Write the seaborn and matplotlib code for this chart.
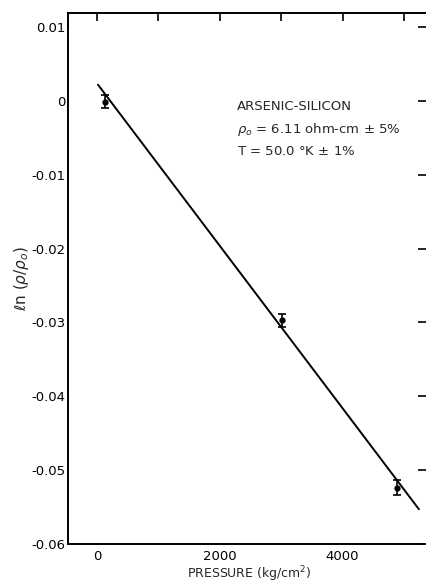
import seaborn as sns
import matplotlib.pyplot as plt

# measured points with error bars
pressure = [130, 3010, 4880]
ln_ratio = [-0.0001, -0.0297, -0.0524]
ln_err = [0.0009, 0.0009, 0.0010]

# fitted straight line (end points)
fit_pressure = [16, 5245]
fit_ln = [0.0022, -0.0553]

x_ticks = [0, 1000, 2000, 3000, 4000, 5000]
x_labels = ['0', '', '2000', '', '4000', '']
y_ticks = [0.01, 0, -0.01, -0.02, -0.03, -0.04, -0.05, -0.06]
y_labels = ['0.01', '0', '-0.01', '-0.02', '-0.03', '-0.04', '-0.05', '-0.06']

sns.set_style('white')
plt.rcParams['font.family'] = ['DejaVu Sans']

fig = plt.figure(figsize=(4.27, 5.86), dpi=100)
ax = fig.add_axes([0.159, 0.0717, 0.848, 0.906])

sns.lineplot(x=fit_pressure, y=fit_ln, ax=ax, color='black', linewidth=1.4)
ax.errorbar(pressure, ln_ratio, yerr=ln_err, fmt='o', color='black',
            markersize=3.5, capsize=3, elinewidth=1.2, capthick=1.2)

ax.set_xlim(-474, 5425)
ax.set_ylim(-0.06, 0.0119)
ax.set_xticks(x_ticks)
ax.set_xticklabels(x_labels)
ax.set_yticks(y_ticks)
ax.set_yticklabels(y_labels)

ax.tick_params(axis='both', direction='in', colors='black', labelsize=9.5,
               top=True, right=True, width=1.2)
ax.tick_params(axis='y', which='major', length=9, pad=2)
ax.tick_params(axis='x', which='major', length=6, pad=4)
for s in ax.spines.values():
    s.set_color('black')
    s.set_linewidth(1.4)

ax.set_xlabel('PRESSURE (kg/cm$^2$)', fontsize=9, labelpad=1)
ax.set_ylabel(r'$\ell$n ($\rho$/$\rho_o$)', fontsize=11, labelpad=0)

ax.text(2280, -0.0008, 'ARSENIC-SILICON', fontsize=9.5, va='center')
ax.text(2280, -0.0039, r'$\rho_o$ = 6.11 ohm-cm $\pm$ 5%', fontsize=9.5, va='center')
ax.text(2280, -0.0068, 'T = 50.0 °K $\\pm$ 1%', fontsize=9.5, va='center')

fig.savefig('out.png', dpi=100)
